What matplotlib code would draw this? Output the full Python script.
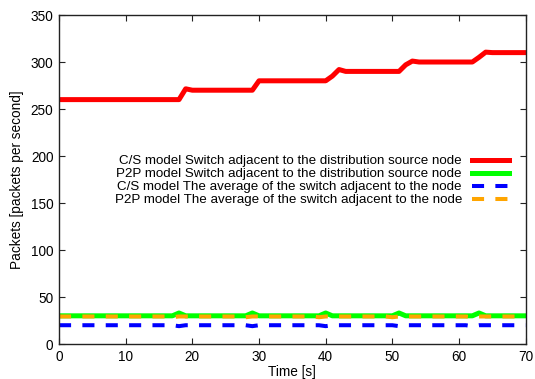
import matplotlib
matplotlib.use("Agg")
import matplotlib.pyplot as plt
import numpy as np

plt.rcParams['font.family'] = ['Liberation Sans', 'DejaVu Sans']

time_s = list(range(0, 71))

cs_source = ([260] * 19 + [271.5] + [270] * 10 + [280] * 11 + [285, 292] +
             [290] * 9 + [297, 301] + [300] * 9 + [305, 310.5] + [310] * 6)
p2p_source = [30] * 71
for t in (18, 29, 40, 51, 63):
    p2p_source[t] = 33
cs_average = [20] * 71
for t in (18, 29, 40, 51, 62):
    cs_average[t] = 19
p2p_average = [29.3] * 71
for t in (17, 28, 39, 50, 62):
    p2p_average[t] = 28.5

labels = [
    "C/S model Switch adjacent to the distribution source node",
    "P2P model Switch adjacent to the distribution source node",
    "C/S model The average of the switch adjacent to the node",
    "P2P model The average of the switch adjacent to the node",
]

fig = plt.figure(figsize=(5.35, 3.79), dpi=100)
ax = fig.add_axes([0.1103, 0.0923, 0.8723, 0.8681])

ax.plot(time_s, cs_source, color="#ff0000", lw=3.6, label=labels[0])
ax.plot(time_s, p2p_source, color="#00ff00", lw=3.6, label=labels[1])
ax.plot(time_s, cs_average, color="#0000ff", lw=2.9, dashes=(3, 2.8), label=labels[2])
ax.plot(time_s, p2p_average, color="#ffa500", lw=2.9, dashes=(3, 2.8), label=labels[3])

ax.set_xlim(0, 70)
ax.set_ylim(0, 350)
ax.set_xticks(range(0, 71, 10))
ax.set_yticks(range(0, 351, 50))
ax.tick_params(direction="in", top=True, right=True, length=4, width=0.8,
               labelsize=9.8, pad=4, colors="#222222", labelcolor="black")
for s in ax.spines.values():
    s.set_linewidth(1.0)
    s.set_color("#222222")
ax.set_xlabel("Time [s]", fontsize=9.8, labelpad=1)
ax.set_ylabel("Packets [packets per second]", fontsize=9.8, labelpad=5)

ax.legend(loc="upper right", bbox_to_anchor=(0.969, 0.583), frameon=False,
          markerfirst=False, fontsize=9.6, handlelength=2.75, handletextpad=0.75,
          labelspacing=0.05, borderpad=0.2, borderaxespad=0)

fig.savefig("out.png", dpi=100)
